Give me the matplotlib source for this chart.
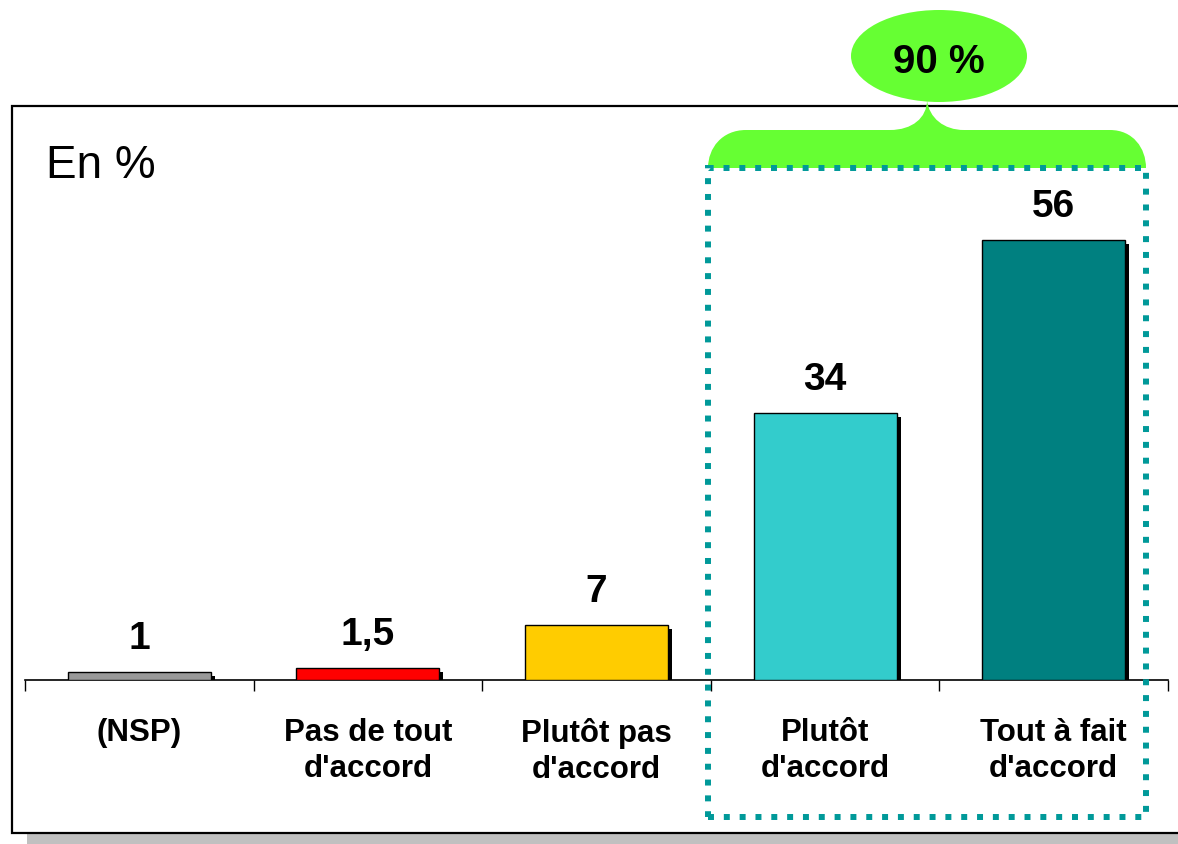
import matplotlib.pyplot as plt
from matplotlib.patches import Rectangle, Ellipse, PathPatch
from matplotlib.path import Path
import matplotlib.transforms as mtransforms

plt.rcParams['font.family'] = ['Liberation Sans', 'DejaVu Sans']

# Data
categories = ['(NSP)', 'Pas de tout\nd\'accord', 'Plutôt pas\nd\'accord',
              'Plutôt\nd\'accord', 'Tout à fait\nd\'accord']
values = [1, 1.5, 7, 34, 56]
value_labels = ['1', '1,5', '7', '34', '56']
colors = ['#999999', '#FF0000', '#FFCC00', '#33CCCC', '#008080']
total_label = '90 %'
unit_label = 'En %'

W, H = 1178, 844
fig = plt.figure(figsize=(W / 100, H / 100), dpi=100)


def fx(x):
    return x / W


def fy(y):
    return 1 - y / H


# frame with gray shadow
fig.patches.append(Rectangle((fx(27), fy(H + 10)), fx(1200), (H - 118 + 10) / H,
                             transform=fig.transFigure, facecolor='#C0C0C0',
                             edgecolor='none', zorder=0))
fig.patches.append(Rectangle((fx(12), fy(833)), fx(1200), (833 - 106) / H,
                             transform=fig.transFigure, facecolor='white',
                             edgecolor='black', linewidth=1.6, zorder=1))

# axes: x from -0.5..4.5 mapped to px 25..1168, y=0 at px 680
scale = 7.85
ymax = 60
ax_left, ax_right, base = 25, 1168, 680
ax = fig.add_axes([fx(ax_left), fy(base), fx(ax_right - ax_left), ymax * scale / H])
ax.set_zorder(2)
ax.patch.set_visible(False)
ax.set_xlim(-0.5, 4.5)
ax.set_ylim(0, ymax)

x = list(range(len(values)))
shadow = mtransforms.offset_copy(ax.transData, fig=fig, x=4, y=-4, units='dots')
ax.bar(x, values, width=0.625, color='black', transform=shadow, zorder=2)
ax.bar(x, values, width=0.625, color=colors, edgecolor='black', linewidth=1, zorder=3)

for xi, v, lab in zip(x, values, value_labels):
    ax.annotate(lab, (xi, v), xytext=(0, 16.5), textcoords='offset points',
                ha='center', va='baseline', fontsize=28, fontweight='bold')

for s in ['top', 'left', 'right']:
    ax.spines[s].set_visible(False)
ax.spines['bottom'].set_linewidth(1.2)
ax.set_yticks([])
ax.set_xticks([i - 0.5 for i in range(len(values) + 1)])
ax.set_xticklabels([])
ax.tick_params(axis='x', length=8, width=1, direction='out')

label_shift = mtransforms.offset_copy(ax.transData, fig=fig, x=0, y=-38, units='dots')
for xi, cat in zip(x, categories):
    ax.text(xi, 0, cat, transform=label_shift,
            ha='center', va='top', fontsize=22.5, fontweight='bold', linespacing=1.25)

fig.text(fx(46), fy(178), unit_label, fontsize=33, ha='left', va='baseline', zorder=5)

# green brace
verts = [(708, 168), (708, 148), (722, 130), (746, 130),
         (890, 130), (912, 130), (927, 118), (927, 100),
         (929, 118), (944, 130), (964, 130),
         (1110, 130), (1133, 130), (1146, 148), (1146, 168),
         (708, 168)]
codes = [Path.MOVETO, Path.CURVE4, Path.CURVE4, Path.CURVE4,
         Path.LINETO, Path.CURVE4, Path.CURVE4, Path.CURVE4,
         Path.CURVE4, Path.CURVE4, Path.CURVE4,
         Path.LINETO, Path.CURVE4, Path.CURVE4, Path.CURVE4,
         Path.CLOSEPOLY]
brace = Path([(fx(a), fy(b)) for a, b in verts], codes)
fig.patches.append(PathPatch(brace, transform=fig.transFigure, facecolor='#66FF33',
                             edgecolor='none', zorder=3))
fig.patches.append(Ellipse((fx(939), fy(56)), fx(176), 92 / H, transform=fig.transFigure,
                           facecolor='#66FF33', edgecolor='none', zorder=3))
fig.text(fx(939), fy(73), total_label, fontsize=29, fontweight='bold',
         ha='center', va='baseline', zorder=6)

# dotted box around agreement categories
box = Rectangle((fx(708), fy(817)), fx(1146 - 708), (817 - 168) / H,
                transform=fig.transFigure, facecolor='none', edgecolor='#009999',
                linewidth=4.3, linestyle=(0, (1, 1.65)), zorder=4)
box.set_capstyle('butt')
fig.patches.append(box)

fig.savefig('out.png', dpi=100)
